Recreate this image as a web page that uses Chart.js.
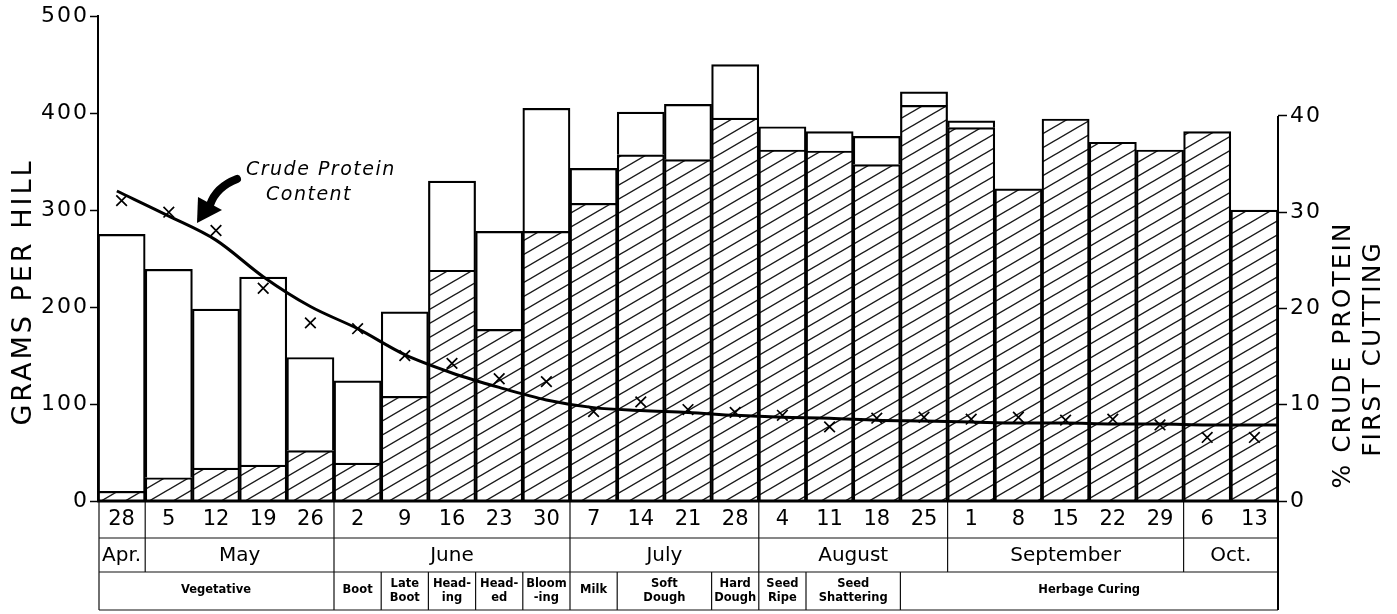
<!DOCTYPE html>
<html>
<head>
<meta charset="utf-8">
<script src="https://cdn.jsdelivr.net/npm/chart.js@4.4.1/dist/chart.umd.min.js"></script>
<style>
  html, body { margin: 0; padding: 0; background: #fff; }
  #wrap { width: 1397px; height: 614px; }
</style>
</head>
<body>
<div id="wrap"><canvas id="yieldChart" width="1397" height="614"></canvas></div>
<script>
// cutting dates (day of month), one bar each
const cutDays = ['28', '5', '12', '19', '26', '2', '9', '16', '23', '30', '7', '14', '21', '28',
                 '4', '11', '18', '25', '1', '8', '15', '22', '29', '6', '13'];

const months = ['Apr.', 'May', 'June', 'July', 'August', 'September', 'Oct.'];
const monthSpans = [1, 4, 5, 4, 4, 5, 2];

const stages = ['Vegetative', 'Boot', 'Late\nBoot', 'Head-\ning', 'Head-\ned', 'Bloom\n-ing', 'Milk',
                'Soft\nDough', 'Hard\nDough', 'Seed\nRipe', 'Seed\nShattering', 'Herbage Curing'];
const stageSpans = [5, 1, 1, 1, 1, 1, 1, 2, 1, 1, 2, 8];

// grams per hill: whole bar and hatched lower part
const totalGrams = [275, 239, 198, 231, 148, 124, 195, 330, 278, 405, 343, 401, 409, 450,
                    386, 381, 376, 422, 392, 322, 394, 370, 362, 381, 300];
const hatchedGrams = [10, 24, 34, 37, 52, 39, 108, 238, 177, 278, 307, 357, 352, 395,
                      362, 361, 347, 408, 385, 322, 394, 370, 362, 381, 300];

// % crude protein, first cutting
const proteinPct = [31.2, 30.0, 28.1, 22.1, 18.5, 17.9, 15.1, 14.3, 12.7, 12.4, 9.3, 10.3, 9.5, 9.2,
                    8.9, 7.7, 8.6, 8.7, 8.5, 8.7, 8.4, 8.5, 7.9, 6.6, 6.6];

// fitted protein curve, x in bar positions (runs to the right edge)
const curveX = [-0.1, 1, 2, 3, 4, 5, 6, 7, 8, 9, 10, 11, 12, 13, 14, 15, 16, 17, 18, 19, 20, 21, 22, 23, 24, 24.5];
const curvePct = [32.2, 29.6, 27.1, 23.3, 20.2, 17.9, 15.2, 13.3, 11.8, 10.5, 9.7, 9.4, 9.2, 8.9,
                  8.7, 8.6, 8.4, 8.3, 8.2, 8.1, 8.1, 8.0, 8.0, 7.9, 7.9, 7.9];

const gramTicks = [0, 100, 200, 300, 400, 500];
const pctTicks = [0, 10, 20, 30, 40];

const FONT = 'DejaVu Sans';

function hatchPattern() {
    const c = document.createElement('canvas');
    c.width = 24;
    c.height = 14;
    const g = c.getContext('2d');
    g.fillStyle = '#fff';
    g.fillRect(0, 0, 24, 14);
    g.strokeStyle = '#1a1a1a';
    g.lineWidth = 1.4;
    g.beginPath();
    for (const dy of [-14, 0, 14]) {
        g.moveTo(-24, 28 + dy);
        g.lineTo(48, -14 + dy);
    }
    g.stroke();
    return g.createPattern(c, 'repeat');
}

// wider spacing for the axis numbers
const spacingPlugin = {
    id: 'tickSpacing',
    beforeDraw(chart) { chart.ctx.letterSpacing = '2px'; },
    beforeDatasetsDraw(chart) { chart.ctx.letterSpacing = '0px'; }
};

// rows under the bars, titles, the arrow note and the short right axis
const extrasPlugin = {
    id: 'extras',
    afterDraw(chart) {
        const ctx = chart.ctx;
        const area = chart.chartArea;
        const xs = chart.scales.x;
        const y2 = chart.scales.y2;
        const step = (area.right - area.left) / cutDays.length;
        const edge = i => xs.getPixelForValue(0) - step / 2 + i * step;
        const top = area.bottom;
        const r1 = top + 37, r2 = top + 71, r3 = top + 109;
        const L = edge(0) + 1, R = edge(cutDays.length);

        ctx.save();
        ctx.strokeStyle = '#111';
        ctx.lineWidth = 1.2;
        ctx.beginPath();
        [r1, r2, r3].forEach(y => { ctx.moveTo(L, y); ctx.lineTo(R, y); });
        ctx.moveTo(L, top); ctx.lineTo(L, r3);
        // month boundaries through date and month rows
        let k = 0;
        monthSpans.slice(0, -1).forEach(n => {
            k += n;
            ctx.moveTo(edge(k), top); ctx.lineTo(edge(k), r2);
        });
        // stage boundaries
        k = 0;
        stageSpans.slice(0, -1).forEach(n => {
            k += n;
            ctx.moveTo(edge(k), r2); ctx.lineTo(edge(k), r3);
        });
        ctx.stroke();

        // right axis line, from 40 % down through the rows
        ctx.lineWidth = 2;
        ctx.strokeStyle = '#000';
        ctx.beginPath();
        ctx.moveTo(R, y2.getPixelForValue(40));
        ctx.lineTo(R, r3);
        ctx.stroke();

        // base line
        ctx.lineWidth = 3;
        ctx.beginPath();
        ctx.moveTo(area.left - 1, top);
        ctx.lineTo(R, top);
        ctx.stroke();

        ctx.fillStyle = '#000';
        ctx.textAlign = 'center';
        ctx.textBaseline = 'middle';

        ctx.font = `21px "${FONT}"`;
        cutDays.forEach((d, i) => ctx.fillText(d, xs.getPixelForValue(i), top + 19));

        ctx.font = `20px "${FONT}"`;
        k = 0;
        months.forEach((m, i) => {
            const mid = (edge(k) + edge(k + monthSpans[i])) / 2;
            ctx.fillText(m, mid, r1 + 18);
            k += monthSpans[i];
        });

        ctx.font = `bold 11.5px "${FONT}"`;
        k = 0;
        stages.forEach((s, i) => {
            const mid = (edge(k) + edge(k + stageSpans[i])) / 2;
            const lines = s.split('\n');
            if (lines.length === 1) {
                ctx.fillText(s, mid, r2 + 18);
            } else {
                ctx.fillText(lines[0], mid, r2 + 12);
                ctx.fillText(lines[1], mid, r2 + 26);
            }
            k += stageSpans[i];
        });

        // axis titles
        ctx.font = `27px "${FONT}"`;
        ctx.letterSpacing = '3px';
        ctx.save();
        ctx.translate(24, 292);
        ctx.rotate(-Math.PI / 2);
        ctx.fillText('GRAMS PER HILL', 0, 0);
        ctx.restore();

        ctx.font = `25px "${FONT}"`;
        ctx.letterSpacing = '2px';
        ctx.save();
        ctx.translate(1343, 355);
        ctx.rotate(-Math.PI / 2);
        ctx.fillText('% CRUDE PROTEIN', 0, 0);
        ctx.fillText('FIRST CUTTING', 6, 30);
        ctx.restore();

        // note with its arrow
        ctx.font = `italic 19px "${FONT}"`;
        ctx.letterSpacing = '1.5px';
        ctx.textAlign = 'left';
        ctx.fillText('Crude Protein', 246, 170);
        ctx.fillText('Content', 266, 195);
        ctx.letterSpacing = '0px';

        ctx.lineWidth = 8;
        ctx.lineCap = 'round';
        ctx.beginPath();
        ctx.moveTo(237, 179);
        ctx.quadraticCurveTo(216, 187, 210, 205);
        ctx.stroke();
        ctx.beginPath();
        ctx.moveTo(197, 223);
        ctx.lineTo(198, 197);
        ctx.lineTo(222, 210);
        ctx.closePath();
        ctx.fill();
        ctx.restore();
    }
};

const ctx = document.getElementById('yieldChart').getContext('2d');
const hatch = hatchPattern();

const barStyle = {
    borderColor: '#000',
    borderWidth: 2.2,
    stack: 'g',
    yAxisID: 'y',
    grouped: false,
    barPercentage: 1,
    categoryPercentage: 1,
    order: 3
};

new Chart(ctx, {
    type: 'bar',
    data: {
        labels: cutDays,
        datasets: [
            Object.assign({ label: 'hatched', data: hatchedGrams, backgroundColor: hatch }, barStyle),
            Object.assign({
                label: 'remainder',
                data: totalGrams.map((t, i) => (t - hatchedGrams[i]) || null),
                backgroundColor: '#fff'
            }, barStyle),
            {
                type: 'line',
                label: 'curve',
                data: curveX.map((x, i) => ({ x: x, y: curvePct[i] })),
                xAxisID: 'xc',
                yAxisID: 'y2',
                borderColor: '#000',
                borderWidth: 3,
                pointRadius: 0,
                cubicInterpolationMode: 'monotone',
                fill: false,
                order: 1
            },
            {
                type: 'line',
                label: 'protein',
                data: proteinPct,
                yAxisID: 'y2',
                showLine: false,
                pointStyle: 'crossRot',
                pointRadius: 7.5,
                pointBorderWidth: 1.7,
                pointBorderColor: '#000',
                order: 0
            }
        ]
    },
    options: {
        responsive: false,
        animation: false,
        devicePixelRatio: 1,
        layout: { padding: { top: 15, bottom: 113, left: 0, right: 0 } },
        plugins: { legend: { display: false }, tooltip: { enabled: false } },
        scales: {
            x: { type: 'category', display: false, stacked: true, offset: true },
            xc: {
                type: 'linear', display: false, offset: false, bounds: 'data',
                min: -0.5, max: cutDays.length - 0.5, grace: 0
            },
            y: {
                position: 'left',
                stacked: true,
                min: 0,
                max: 500,
                afterBuildTicks: s => { s.ticks = gramTicks.map(v => ({ value: v })); },
                afterFit: s => { s.width = 98; },
                ticks: { color: '#000', font: { family: FONT, size: 22 }, padding: 1 },
                grid: { drawOnChartArea: false, drawTicks: true, tickLength: 8, tickWidth: 1.5, tickColor: '#000' },
                border: { display: true, color: '#000', width: 2 }
            },
            y2: {
                position: 'right',
                min: 0,
                max: 50.36,
                afterBuildTicks: s => { s.ticks = pctTicks.map(v => ({ value: v })); },
                afterFit: s => { s.width = 119; },
                ticks: { color: '#000', font: { family: FONT, size: 22 }, padding: 3 },
                grid: { drawOnChartArea: false, drawTicks: true, tickLength: 9, tickWidth: 1.5, tickColor: '#000' },
                border: { display: false }
            }
        }
    },
    plugins: [spacingPlugin, extrasPlugin]
});
</script>
</body>
</html>
